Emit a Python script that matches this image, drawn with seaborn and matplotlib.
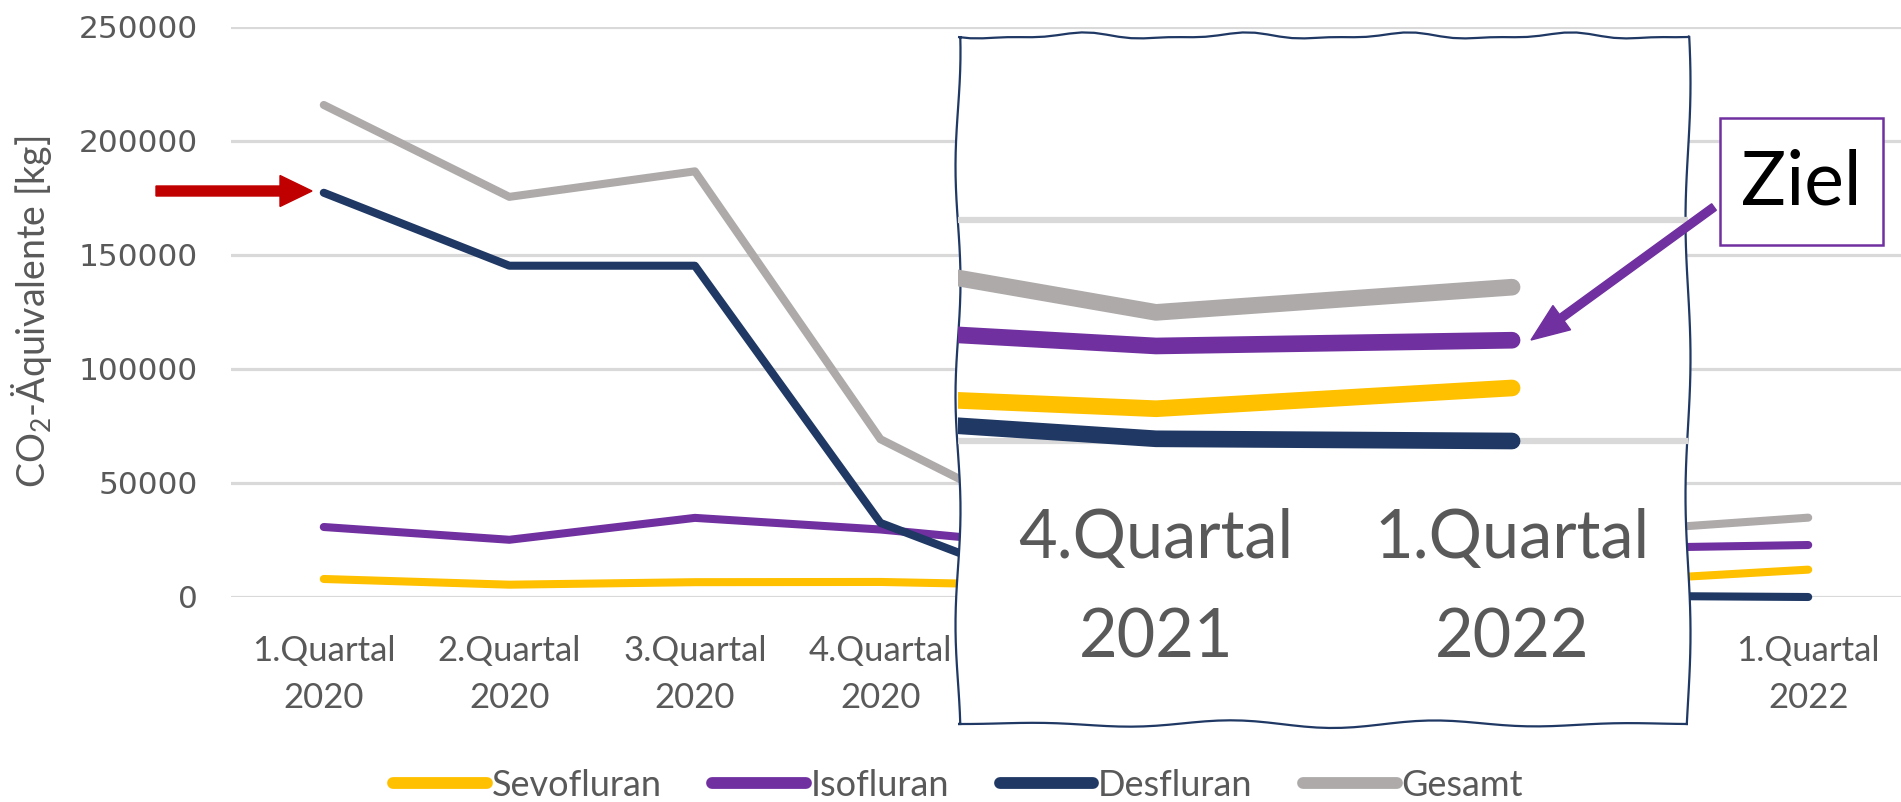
import numpy as np
import pandas as pd
import matplotlib
matplotlib.use("Agg")
import matplotlib.pyplot as plt
import matplotlib.patches as mpatches
from matplotlib.path import Path
from matplotlib.transforms import Bbox
import seaborn as sns

# values (kg CO2 equivalents per quarter)
quarters = ["1.Quartal\n2020", "2.Quartal\n2020", "3.Quartal\n2020", "4.Quartal\n2020",
            "1.Quartal\n2021", "2.Quartal\n2021", "3.Quartal\n2021", "4.Quartal\n2021",
            "1.Quartal\n2022"]
sevofluran = [7900, 5400, 6500, 6600, 5000, 8000, 10700, 7300, 12000]
isofluran = [30700, 25100, 34700, 29600, 22000, 23500, 26000, 21500, 22800]
desfluran = [177300, 145300, 145300, 32500, 1500, 4000, 5800, 500, 0]
gesamt = [215800, 175500, 186700, 69200, 28300, 35500, 43100, 29100, 34800]

series_names = ["Sevofluran", "Isofluran", "Desfluran", "Gesamt"]
series_colors = ["#FFC000", "#7030A0", "#1F3864", "#AEAAAA"]
y_ticks = [0, 50000, 100000, 150000, 200000, 250000]
inset_ticks = [7, 8]
inset_labels = ["4.Quartal\n2021", "1.Quartal\n2022"]

df = pd.DataFrame({
    "idx": list(range(len(quarters))) * 4,
    "value": sevofluran + isofluran + desfluran + gesamt,
    "series": np.repeat(series_names, len(quarters)),
})

sns.set_theme(style="white")
plt.rcParams["font.family"] = ["Lato", "DejaVu Sans"]
plt.rcParams["mathtext.fontset"] = "custom"
plt.rcParams["mathtext.rm"] = "Lato"

W, H = 1901, 802
TXT = "#595959"
GRID = "#D9D9D9"


def px(x, y):
    # figure pixel (top-left origin) -> inches for dpi_scale_trans
    return x / 100, (H - y) / 100


fig = plt.figure(figsize=(W / 100, H / 100), dpi=100)

# box of the magnifier (figure pixels)
x0, x1, y0, y1 = 958, 1688, 36, 724

# ---------- main chart ----------
ax = fig.add_axes([231 / W, 1 - 597 / H, 1 - 231 / W, 570 / H])
sns.lineplot(data=df, x="idx", y="value", hue="series", hue_order=series_names,
             palette=series_colors, linewidth=5.8, ax=ax)
for line in ax.lines:
    line.set_solid_capstyle("round")
    line.set_solid_joinstyle("round")
    line.set_clip_on(False)

ax.set_xlim(-0.5, 8.5)
ax.set_ylim(0, 250000)
ax.set_xticks(range(len(quarters)))
ax.set_xticklabels(quarters)
ax.set_yticks(y_ticks)
ax.set_yticklabels([str(v) for v in y_ticks])
ax.tick_params(axis="x", length=0, pad=27, labelsize=25, labelcolor=TXT)
ax.tick_params(axis="y", length=0, pad=24, labelsize=22.5, labelcolor=TXT)
outside_box = Bbox.from_extents(x1 + 2, 0, W, H)
for i, t in enumerate(ax.get_xticklabels()):
    t.set_linespacing(1.6)
    if 4 <= i <= 6:
        # completely hidden behind the magnifier
        t.set_visible(False)
    elif i == 7:
        t.set_clip_box(outside_box)
        t.set_clip_on(True)
for t in ax.get_yticklabels():
    t.set_fontfamily("DejaVu Sans")
ax.set_xlabel("")
ax.set_ylabel(r"CO$_\mathregular{2}$-Äquivalente [kg]", fontsize=27, color=TXT)
ax.yaxis.set_label_coords(-0.106, 0.5)
ax.yaxis.grid(True, color=GRID, lw=2.3)
ax.xaxis.grid(False)
ax.set_axisbelow(True)
sns.despine(ax=ax, left=True, bottom=True)

handles, labels = ax.get_legend_handles_labels()
ax.get_legend().remove()
leg = fig.legend(handles, labels, loc="center", bbox_to_anchor=(958 / W, 1 - 785 / H),
                 ncol=4, frameon=False, fontsize=26, handlelength=2.6,
                 handletextpad=0.12, columnspacing=1.4)
for l in leg.get_lines():
    l.set_linewidth(8.5)
    l.set_solid_capstyle("round")
for t in leg.get_texts():
    t.set_color(TXT)

# ---------- red arrow ----------
fig.add_artist(mpatches.FancyArrow(*px(156, 191), 1.56, 0, width=0.10, head_width=0.31,
                                   head_length=0.32, length_includes_head=True,
                                   color="#C00000", transform=fig.dpi_scale_trans, zorder=5))

# ---------- wavy magnifier box ----------
n = 60
t = np.linspace(0, 1, n)
top = np.column_stack([x0 + t * (x1 - x0), y0 + 2.5 * np.sin(2 * np.pi * 4.5 * t) + 1.2 * np.sin(2 * np.pi * 9 * t + 1)])
right = np.column_stack([x1 + 2.5 * np.sin(2 * np.pi * 2.5 * t + 0.5), y0 + t * (y1 - y0)])
bottom = np.column_stack([x1 - t * (x1 - x0), y1 - 4 * np.sin(2 * np.pi * 3.5 * t + 0.3) * np.sin(np.pi * t)])
left = np.column_stack([x0 + 2.5 * np.sin(2 * np.pi * 3 * t + 2), y1 - t * (y1 - y0)])
pts = np.vstack([top, right, bottom, left])
verts = [px(a, b) for a, b in pts]
codes = [Path.MOVETO] + [Path.LINETO] * (len(verts) - 1)
box = mpatches.PathPatch(Path(verts, codes), facecolor="white", edgecolor="#1F3864",
                         lw=1.6, transform=fig.dpi_scale_trans, zorder=2)
fig.add_artist(box)

# ---------- inset (magnified view) ----------
ax_in = fig.add_axes([x0 / W, 1 - 470 / H, (x1 - x0) / W, 434 / H])
ax_in.set_zorder(3)
ax_in.patch.set_alpha(0)
sns.lineplot(data=df, x="idx", y="value", hue="series", hue_order=series_names,
             palette=series_colors, linewidth=12, ax=ax_in, legend=False)
for line in ax_in.lines:
    line.set_solid_capstyle("round")
    line.set_solid_joinstyle("round")
ax_in.set_xlim(6.444, 8.494)
ax_in.set_ylim(-6561, 91630)
ax_in.set_yticks([0, 50000])
ax_in.yaxis.grid(True, color=GRID, lw=4.5)
ax_in.xaxis.grid(False)
ax_in.set_axisbelow(True)
ax_in.tick_params(axis="y", left=False, labelleft=False)
ax_in.set_xticks(inset_ticks)
ax_in.set_xticklabels(inset_labels)
ax_in.tick_params(axis="x", length=0, pad=27, labelsize=48, labelcolor=TXT)
for tl in ax_in.get_xticklabels():
    tl.set_linespacing(1.75)
ax_in.set_xlabel("")
ax_in.set_ylabel("")
sns.despine(ax=ax_in, left=True, bottom=True)

# ---------- "Ziel" callout ----------
fig.add_artist(mpatches.Rectangle(px(1720, 245), 1.63, 1.27, facecolor="white",
                                  edgecolor="#7030A0", lw=1.8,
                                  transform=fig.dpi_scale_trans, zorder=4))
fig.text(1801 / W, 1 - 183 / H, "Ziel", fontsize=54, color="black",
         ha="center", va="center", zorder=6)
tx, ty = px(1714, 207)
hx, hy = px(1531, 340)
fig.add_artist(mpatches.FancyArrow(tx, ty, hx - tx, hy - ty, width=0.08, head_width=0.30,
                                   head_length=0.38, length_includes_head=True,
                                   color="#7030A0", transform=fig.dpi_scale_trans, zorder=5))

fig.savefig("out.png", dpi=100)
